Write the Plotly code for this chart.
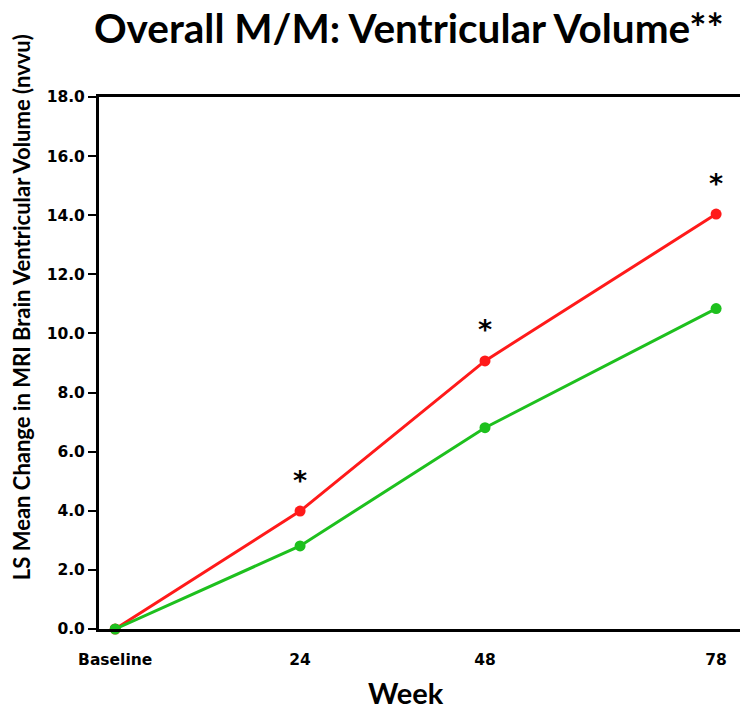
import plotly.graph_objects as go

weeks = [0, 24, 48, 78]
tick_labels = ["Baseline", "24", "48", "78"]
red_values = [0.0, 3.99, 9.07, 14.04]
green_values = [0.0, 2.81, 6.81, 10.84]
star_weeks = [24, 48, 78]
star_values = [3.99, 9.07, 14.04]
y_ticks = [0, 2, 4, 6, 8, 10, 12, 14, 16, 18]

fig = go.Figure()
fig.add_trace(go.Scatter(x=weeks, y=red_values, mode="lines+markers",
                         line=dict(color="#ff1a1a", width=3),
                         marker=dict(color="#ff1a1a", size=11),
                         cliponaxis=False, showlegend=False))
fig.add_trace(go.Scatter(x=weeks, y=green_values, mode="lines+markers",
                         line=dict(color="#1ec01e", width=3),
                         marker=dict(color="#1ec01e", size=11),
                         cliponaxis=False, showlegend=False))

for wx, wy in zip(star_weeks, star_values):
    fig.add_annotation(x=wx, y=wy, text="<b>*</b>", showarrow=False,
                       yshift=31, font=dict(size=27, color="black", family="DejaVu Sans"))

# axis titles as paper annotations
fig.add_annotation(xref="paper", yref="paper", x=0.479, y=-0.12, yanchor="middle",
                   text="<b>Week</b>", showarrow=False,
                   font=dict(family="Lato", size=29, color="black"))
fig.add_annotation(xref="paper", yref="paper", x=-0.1217, y=0.605, xanchor="center",
                   yanchor="middle", textangle=-90,
                   text="<b>LS Mean Change in MRI Brain Ventricular Volume (nvvu)</b>",
                   showarrow=False,
                   font=dict(family="Lato", size=22, color="black"))

fig.update_layout(
    width=740, height=710,
    margin=dict(l=99, r=0, t=97, b=81, autoexpand=False),
    paper_bgcolor="white", plot_bgcolor="white",
    title=dict(text="<b>Overall M/M: Ventricular Volume**</b>",
               x=0.5525, xanchor="center", y=0.96, yanchor="middle",
               font=dict(family="Lato", size=40.5, color="black")),
    xaxis=dict(range=[-2.1, 81.1], tickvals=weeks, ticktext=tick_labels,
               showgrid=False, zeroline=False, showline=True, linecolor="black",
               linewidth=3, mirror=True, ticks="", automargin=False,
               tickfont=dict(family="DejaVu Sans", size=15.5, color="black",
                             weight="bold"),
               ticklabelstandoff=14),
    yaxis=dict(range=[0, 18], tickvals=y_ticks, tickformat=".1f",
               showgrid=False, zeroline=False, showline=True, linecolor="black",
               linewidth=3, ticks="outside", ticklen=8, tickwidth=2, tickcolor="black",
               automargin=False,
               tickfont=dict(family="DejaVu Sans", size=15.5, color="black",
                             weight="bold")),
)

fig.write_html("out.html", config={"displayModeBar": False},
               post_script="document.body.style.margin='0px';document.body.style.overflow='hidden';")
